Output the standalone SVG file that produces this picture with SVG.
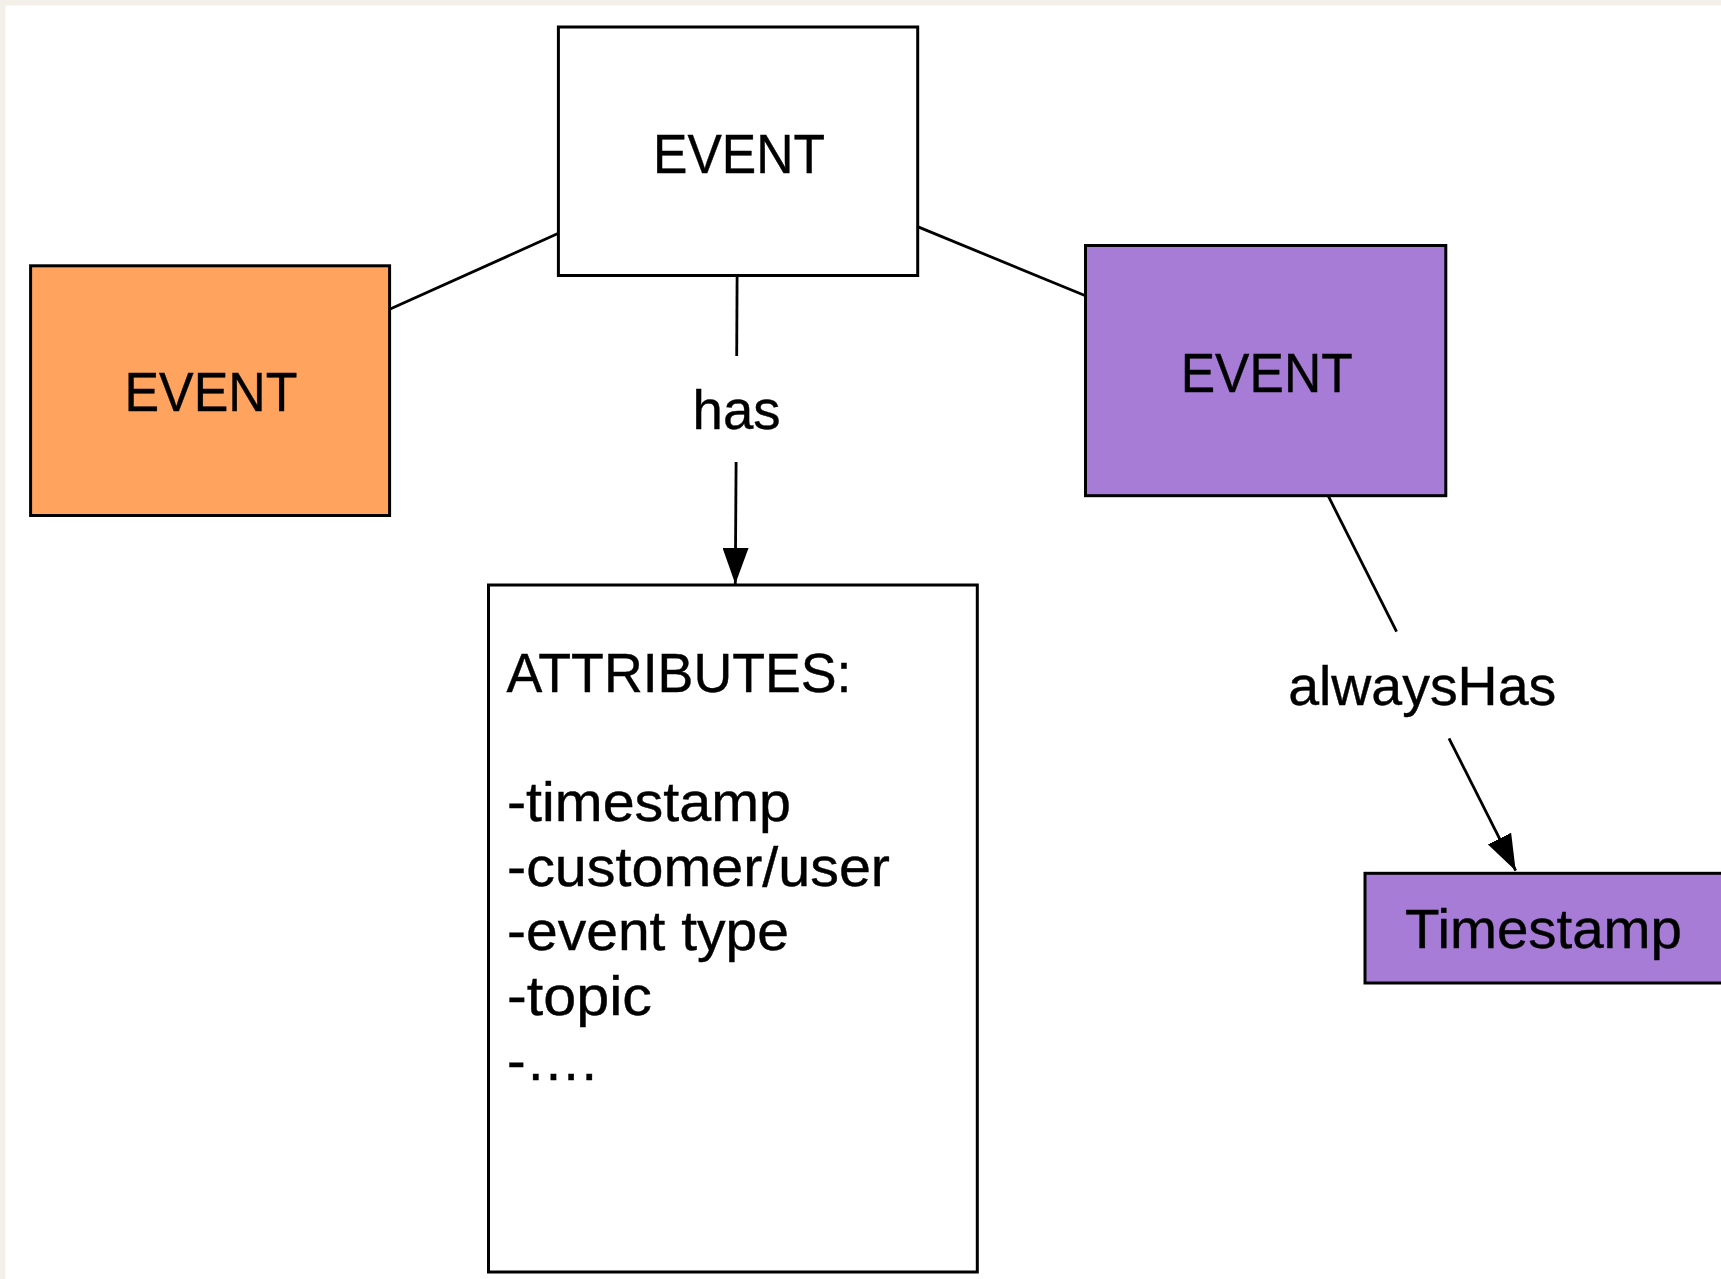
<svg xmlns="http://www.w3.org/2000/svg" width="1721" height="1279" viewBox="0 0 1721 1279">
  <defs>
    <style>
      .box { stroke: #000; stroke-width: 3; }
      .white { fill: #ffffff; }
      .orange { fill: #FFA35F; }
      .purple { fill: #A77CD7; }
      .lbl { font-family: "Liberation Sans", Arial, Helvetica, sans-serif; font-size: 55px; fill: #000; stroke: #000; stroke-width: 0.4; }
      .mid { text-anchor: middle; }
      .conn { stroke: #000; stroke-width: 2.8; fill: none; }
    </style>
    <marker id="arrow" markerUnits="userSpaceOnUse" markerWidth="36" markerHeight="26" refX="36" refY="13" orient="auto">
      <path d="M0,0 L36,13 L0,26 Z" fill="#000"/>
    </marker>
  </defs>

  <rect x="0" y="0" width="1721" height="1279" fill="#F3F0EA"/>
  <rect x="5.5" y="5.5" width="1715.5" height="1273.5" fill="#ffffff"/>

  <g id="connectors">
    <line class="conn" x1="389.6" y1="309.2" x2="558.5" y2="233.3"/>
    <line class="conn" x1="917.5" y1="226.6" x2="1085.5" y2="295.8"/>
    <line class="conn" x1="737.1" y1="276" x2="736.7" y2="356"/>
    <line class="conn" x1="736.1" y1="462" x2="735.3" y2="584" marker-end="url(#arrow)"/>
    <line class="conn" x1="1328.1" y1="495.7" x2="1396.6" y2="631.7"/>
    <line class="conn" x1="1449" y1="738.3" x2="1515.7" y2="870.7" marker-end="url(#arrow)"/>
  </g>

  <g id="edge-label-has">
    <text class="lbl mid" x="736.6" y="429.4" textLength="88" lengthAdjust="spacingAndGlyphs">has</text>
  </g>
  <g id="edge-label-alwaysHas">
    <text class="lbl mid" x="1422.2" y="705" textLength="268" lengthAdjust="spacingAndGlyphs">alwaysHas</text>
  </g>

  <g id="event-top">
    <rect class="box white" x="558.4" y="27" width="359.3" height="248.5"/>
    <text class="lbl mid" x="739" y="173" textLength="172" lengthAdjust="spacingAndGlyphs">EVENT</text>
  </g>

  <g id="event-orange">
    <rect class="box orange" x="30.6" y="265.8" width="359" height="249.7"/>
    <text class="lbl mid" x="211" y="410.5" textLength="173" lengthAdjust="spacingAndGlyphs">EVENT</text>
  </g>

  <g id="event-purple">
    <rect class="box purple" x="1085.5" y="245.5" width="360.3" height="250.2"/>
    <text class="lbl mid" x="1266.7" y="391.7" textLength="172" lengthAdjust="spacingAndGlyphs">EVENT</text>
  </g>

  <g id="attributes">
    <rect class="box white" x="488.5" y="585" width="488.8" height="687"/>
    <text class="lbl" x="506.5" y="692" textLength="345" lengthAdjust="spacingAndGlyphs">ATTRIBUTES:</text>
    <text class="lbl" x="507" y="821" textLength="284" lengthAdjust="spacingAndGlyphs">-timestamp</text>
    <text class="lbl" x="507" y="885.5" textLength="383" lengthAdjust="spacingAndGlyphs">-customer/user</text>
    <text class="lbl" x="507" y="950" textLength="282" lengthAdjust="spacingAndGlyphs">-event type</text>
    <text class="lbl" x="507" y="1014.5" textLength="145" lengthAdjust="spacingAndGlyphs">-topic</text>
    <text class="lbl" x="507" y="1080" textLength="90" lengthAdjust="spacingAndGlyphs">-….</text>
  </g>

  <g id="timestamp">
    <rect class="box purple" x="1365" y="873.3" width="370" height="109.7"/>
    <text class="lbl" x="1405" y="948.3" textLength="277" lengthAdjust="spacingAndGlyphs">Timestamp</text>
  </g>
</svg>
